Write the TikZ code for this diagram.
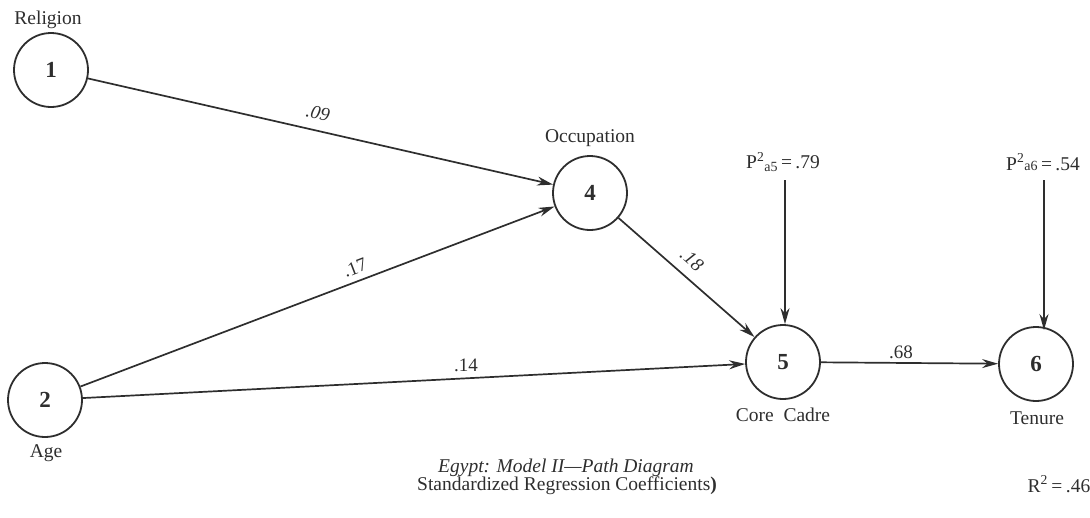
\documentclass[tikz,border=0pt]{standalone}
\usepackage{fontspec}
\setmainfont{Liberation Serif}
\usetikzlibrary{arrows.meta}
\definecolor{ink}{HTML}{2E2E2E}
\begin{document}
\begin{tikzpicture}[x=1pt,y=-1pt,
  var/.style={circle,draw=ink,line width=1.8pt,minimum size=74pt,inner sep=0pt,font=\fontsize{23}{24}\selectfont\bfseries,text=ink},
  lab/.style={font=\fontsize{19.5}{21}\selectfont,text=ink,inner sep=1pt},
  coef/.style={font=\fontsize{19}{20}\selectfont,text=ink,inner sep=0pt},
  path/.style={draw=ink,line width=1.7pt,-{Stealth[length=16pt,width=9pt]}}]
\useasboundingbox (0,0) rectangle (1090,517);
\node[var] (n1) at (51,70) {1};
\node[var] (n2) at (45,400) {2};
\node[var] (n4) at (590,193) {4};
\node[var] (n5) at (783,362) {5};
\node[var] (n6) at (1036,364) {6};
\node[lab] (l1) at (48,20) {Religion};
\node[lab] (l4) at (590,138) {Occupation};
\node[lab] (l2) at (46,453) {Age};
\node[lab] (l5) at (783,415) {Core\ \ Cadre};
\node[lab] (l6) at (1037,418) {Tenure};
\node[lab] (p5) at (783,162) {P\textsuperscript{2}\raisebox{-3pt}{\fontsize{14}{14}\selectfont a5}$\,$=$\,$.79};
\node[lab] (p6) at (1043,162) {P\textsuperscript{2}{\fontsize{14}{14}\selectfont a6}$\,$=$\,$.54};
\coordinate (p5e) at (785,180);
\coordinate (p6e) at (1044,180);
\draw[path] (n1) -- (n4);
\draw[path] (n2) -- (n4);
\draw[path] (n2) -- (n5);
\draw[path] (n4) -- (n5);
\draw[path] (n5) -- (n6);
\draw[path] (p5e) -- (p5e |- n5.north);
\draw[path] (p6e) -- (1044,330);
\node[coef,rotate=-13] (c14) at (318,113) {\itshape .09};
\node[coef,rotate=21] (c24) at (355,268) {.17};
\node[coef] (c25) at (466,365) {.14};
\node[coef,rotate=-41] (c45) at (692,260) {\itshape .18};
\node[coef] (c56) at (901,352) {.68};
\node[lab] (cap1) at (566,468) {\itshape Egypt: Model II---Path Diagram};
\node[lab] (cap2) at (567,486) {Standardized Regression Coefficients\textbf{)}};
\node[lab] (r2) at (1059,484) {R\textsuperscript{2}$\,$=$\,$.46};
\end{tikzpicture}
\end{document}
